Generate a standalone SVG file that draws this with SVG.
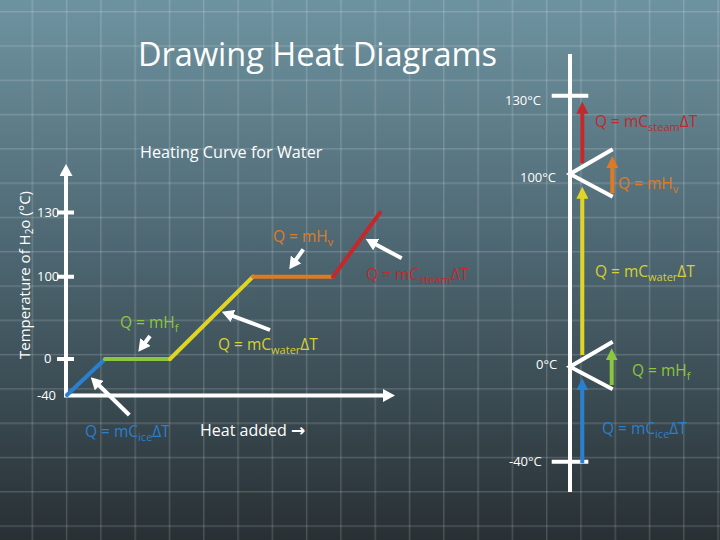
<svg xmlns="http://www.w3.org/2000/svg" width="720" height="540" viewBox="0 0 720 540">
<defs>
<linearGradient id="bg" x1="0" y1="0" x2="0" y2="1">
<stop offset="0" stop-color="#6e93a0"/>
<stop offset="0.45" stop-color="#4e6873"/>
<stop offset="1" stop-color="#283034"/>
</linearGradient>
<pattern id="grid" patternUnits="userSpaceOnUse" x="31.6" y="11" width="34.29" height="34.29">
<rect x="0" y="0" width="34.29" height="1.4" fill="#ffffff" fill-opacity="0.17"/>
<rect x="0" y="0" width="1.4" height="34.29" fill="#ffffff" fill-opacity="0.17"/>
</pattern>
<marker id="aW" markerUnits="userSpaceOnUse" markerWidth="12" markerHeight="13" refX="2" refY="6.5" orient="auto"><path d="M0,0 L12,6.5 L0,13 z" fill="#ffffff"/></marker>
<marker id="aR" markerUnits="userSpaceOnUse" markerWidth="12" markerHeight="12" refX="2" refY="6" orient="auto"><path d="M0,0 L12,6 L0,12 z" fill="#c3282b"/></marker>
<marker id="aO" markerUnits="userSpaceOnUse" markerWidth="12" markerHeight="12" refX="2" refY="6" orient="auto"><path d="M0,0 L12,6 L0,12 z" fill="#e07a22"/></marker>
<marker id="aY" markerUnits="userSpaceOnUse" markerWidth="12" markerHeight="12" refX="2" refY="6" orient="auto"><path d="M0,0 L12,6 L0,12 z" fill="#e0d424"/></marker>
<marker id="aG" markerUnits="userSpaceOnUse" markerWidth="12" markerHeight="12" refX="2" refY="6" orient="auto"><path d="M0,0 L12,6 L0,12 z" fill="#8cc63e"/></marker>
<marker id="aB" markerUnits="userSpaceOnUse" markerWidth="12" markerHeight="12" refX="2" refY="6" orient="auto"><path d="M0,0 L12,6 L0,12 z" fill="#2a80d0"/></marker>
</defs>
<style>
text{font-family:"Open Sans","Noto Sans","Liberation Sans",sans-serif}
.w{fill:#ffffff}
.lbl{font-size:15.5px}
.tk{font-size:13px;fill:#ffffff}
.axis{stroke:#ffffff;stroke-width:4;fill:none}
.wa{stroke:#ffffff;stroke-width:4;fill:none;marker-end:url(#aW)}
.seg{stroke-width:4;fill:none;stroke-linecap:round}
.cR{fill:#c3282b}.cO{fill:#e07a22}.cY{fill:#d8d030}.cG{fill:#8cc63e}.cB{fill:#2a7fcc}
</style>
<rect width="720" height="540" fill="url(#bg)"/>
<rect width="720" height="540" fill="url(#grid)"/>

<text id="title" class="w" x="138" y="66" font-size="32.5">Drawing Heat Diagrams</text>

<g id="left-chart">
<text class="w" x="140" y="158" font-size="16.2">Heating Curve for Water</text>
<text class="w" font-size="15" text-anchor="middle" transform="translate(30,275) rotate(-90)">Temperature of H<tspan font-size="10" dy="3">2</tspan><tspan dy="-3">o (°C)</tspan></text>
<g id="axes">
<path class="axis" d="M66,397 V174" marker-end="url(#aW)"/>
<path class="axis" d="M64,395.5 H385" marker-end="url(#aW)"/>
<path class="axis" d="M57,212.5 H74 M57,276.7 H74 M57,359 H74"/>
<text class="tk" x="37" y="217">130</text>
<text class="tk" x="37" y="281">100</text>
<text class="tk" x="44" y="363">0</text>
<text class="tk" x="37" y="400">-40</text>
</g>
<g id="curve">
<path class="seg" stroke="#2a80d0" d="M67,395 L105,359"/>
<path class="seg" stroke="#8cc63e" d="M105,359 H170"/>
<path class="seg" stroke="#e0d424" d="M170,359 L253,276.7"/>
<path class="seg" stroke="#e07a22" d="M253,276.7 H333"/>
<path class="seg" stroke="#c3282b" d="M333,276.7 L380,212.7"/>
</g>
<g id="left-connectors">
<path class="wa" d="M150,336 L144.3,343.7"/>
<path class="wa" d="M270,330 L231.1,315.3"/>
<path class="wa" d="M303.3,249.3 L295,261.1"/>
<path class="wa" d="M401.7,258.3 L374.5,243.7"/>
<path class="wa" d="M129.3,415 L97.9,384.3"/>
</g>
<g id="left-labels" class="lbl">
<text class="cG" x="120" y="328">Q = mH<tspan font-size="11" dy="4">f</tspan></text>
<text class="cY" x="218" y="350">Q = mC<tspan font-size="11" dy="4">water</tspan><tspan dy="-4">ΔT</tspan></text>
<text class="cO" x="273" y="242">Q = mH<tspan font-size="11" dy="4">v</tspan></text>
<text class="cR" x="366" y="280">Q = mC<tspan font-size="11" dy="4">steam</tspan><tspan dy="-4">ΔT</tspan></text>
<text class="cB" x="85" y="437">Q = mC<tspan font-size="11" dy="4">ice</tspan><tspan dy="-4">ΔT</tspan></text>
<text class="w" x="200" y="436" font-size="16">Heat added <tspan font-family="DejaVu Sans, sans-serif" font-size="17" font-weight="bold">→</tspan></text>
</g>
</g>

<g id="right-chart">
<g id="right-axis">
<path class="axis" d="M570,54 V492"/>
<path class="axis" d="M551.7,95.7 H588.3 M551.7,461.7 H588.3"/>
<path class="axis" d="M612.7,149.3 L570,174 L612.7,196.7"/>
<path class="axis" d="M612.7,341.7 L570,366.7 L612.7,389.3"/>
<text class="tk" x="505" y="105" font-size="14">130°C</text>
<text class="tk" x="520" y="182" font-size="14">100°C</text>
<text class="tk" x="536" y="369" font-size="14">0°C</text>
<text class="tk" x="509" y="466" font-size="14">-40°C</text>
</g>
<g id="right-connectors">
<path stroke="#c3282b" stroke-width="4" d="M582.3,163 V111.7" marker-end="url(#aR)"/>
<path stroke="#e07a22" stroke-width="4" d="M612.3,193.3 V166" marker-end="url(#aO)"/>
<path stroke="#e0d424" stroke-width="4" d="M582.3,355 V196.7" marker-end="url(#aY)"/>
<path stroke="#8cc63e" stroke-width="4" d="M611.7,385 V358.3" marker-end="url(#aG)"/>
<path stroke="#2a80d0" stroke-width="4" d="M582.3,463.3 V388.3" marker-end="url(#aB)"/>
</g>
<g id="right-labels" class="lbl">
<text class="cR" x="595" y="127">Q = mC<tspan font-size="11" dy="4">steam</tspan><tspan dy="-4">ΔT</tspan></text>
<text class="cO" x="618" y="189">Q = mH<tspan font-size="11" dy="4">v</tspan></text>
<text class="cY" x="595" y="277">Q = mC<tspan font-size="11" dy="4">water</tspan><tspan dy="-4">ΔT</tspan></text>
<text class="cG" x="632" y="376">Q = mH<tspan font-size="11" dy="4">f</tspan></text>
<text class="cB" x="602" y="434">Q = mC<tspan font-size="11" dy="4">ice</tspan><tspan dy="-4">ΔT</tspan></text>
</g>
</g>
</svg>
